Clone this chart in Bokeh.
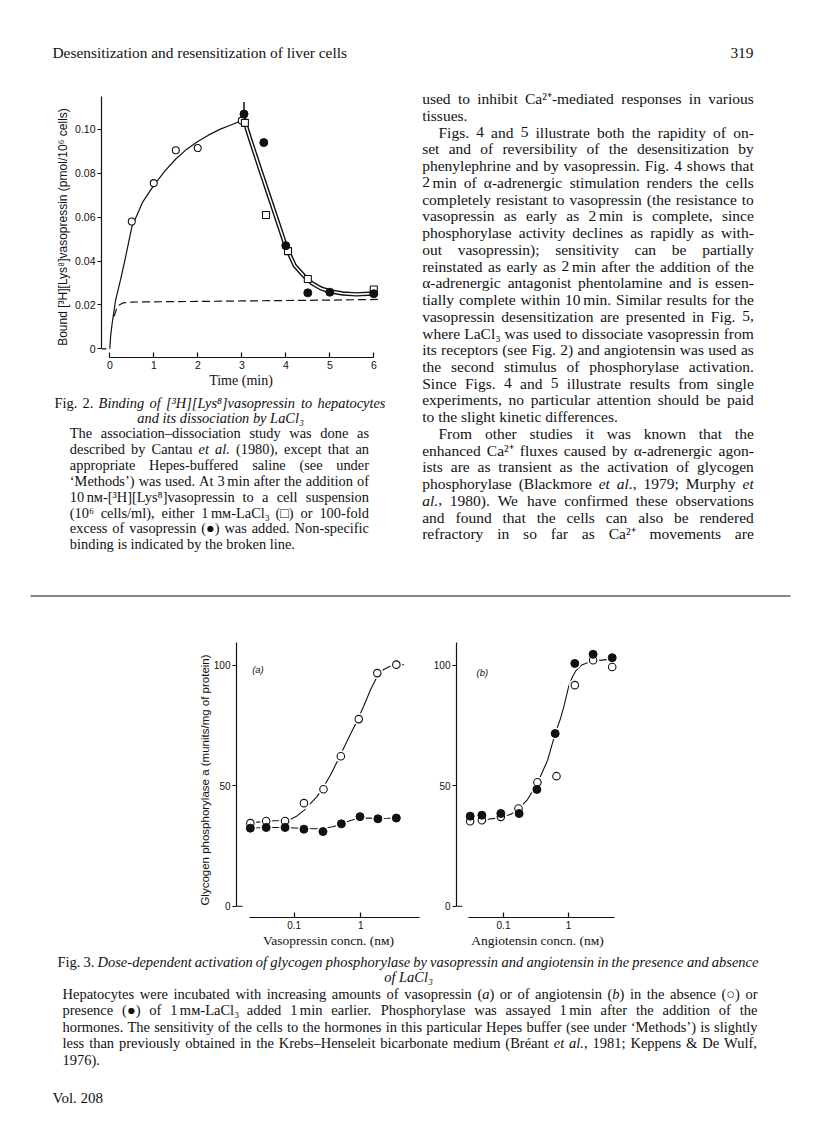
from bokeh.plotting import figure
from bokeh.models import Range1d, FixedTicker, CustomJSTickFormatter, ColumnDataSource, Label
from bokeh.layouts import column, row
from bokeh.embed import file_html
from bokeh.resources import INLINE
from bokeh.core.properties import value

SERIF = "Liberation Serif"
SANS = "Liberation Sans"
INK = "#111111"

# ---------------- Fig. 2 data (time in min, bound pmol/10^6 cells) ----------------
assoc_time = [0.5, 1.0, 1.5, 2.0, 3.0]
assoc_bound = [0.058, 0.0755, 0.0905, 0.0915, 0.104]
excess_time = [3.05, 3.5, 4.0, 4.5, 5.0, 6.0]
excess_bound = [0.107, 0.094, 0.047, 0.0255, 0.0258, 0.0251]
lacl_time = [3.07, 3.55, 4.05, 4.5, 6.0]
lacl_bound = [0.103, 0.061, 0.0445, 0.0318, 0.027]
assoc_fit_time = [0, 0.02, 0.05, 0.13, 0.25, 0.35, 0.5, 0.75, 1.0, 1.25, 1.5, 1.75, 2.0, 2.25, 2.5, 2.75, 3.0]
assoc_fit_bound = [0, 0.006, 0.011, 0.022, 0.032, 0.041, 0.0555, 0.067, 0.0745, 0.081, 0.0865, 0.091,
                   0.0945, 0.0975, 0.1, 0.102, 0.104]
dissoc_fit_time = [3.03, 3.2, 3.4, 3.6, 3.8, 4.0, 4.2, 4.4, 4.6, 4.8, 5.0, 5.3, 5.6, 6.0]
dissoc_fit_bound = [0.1058, 0.095, 0.0828, 0.0708, 0.0588, 0.0468, 0.038, 0.0335, 0.0298, 0.0275,
                    0.0262, 0.0252, 0.0248, 0.0252]
nonspec_time = [0.1, 0.15, 0.2, 0.3, 0.5, 1.0, 2.0, 3.0, 4.0, 5.0, 6.1]
nonspec_bound = [0.0148, 0.018, 0.0198, 0.0209, 0.0213, 0.0214, 0.0216, 0.0218, 0.022, 0.0222, 0.0225]
addition_time = [3.05, 3.05]
addition_bound = [0.1085, 0.1125]
fig2_xticks = [0, 1, 2, 3, 4, 5, 6]
fig2_yticks = [0, 0.02, 0.04, 0.06, 0.08, 0.10]

# ---------------- Fig. 3 data (concn. nM, phosphorylase a) ----------------
vaso_open_x = [0.022, 0.038, 0.073, 0.14, 0.275, 0.5, 0.93, 1.76, 3.4]
vaso_open_y = [34.5, 35.4, 35.4, 42.8, 48.6, 62.3, 77.7, 96.8, 100.3]
vaso_fill_x = [0.022, 0.038, 0.073, 0.14, 0.27, 0.51, 0.97, 1.8, 3.4]
vaso_fill_y = [32.4, 32.7, 32.7, 32.0, 31.0, 34.2, 37.2, 36.3, 36.6]
vaso_open_fit_x = [0.022, 0.038, 0.073, 0.09, 0.11, 0.14, 0.17, 0.22, 0.275, 0.35, 0.45, 0.56, 0.7,
                   0.88, 1.1, 1.4, 1.76, 2.2, 2.7, 3.4, 4.4]
vaso_open_fit_y = [34.5, 35.4, 35.6, 36.2, 37.5, 39.8, 42.3, 45.5, 49.5, 54.5, 60.5, 66.0, 71.5,
                   77.0, 83.0, 90.0, 95.5, 98.3, 99.5, 100.2, 100.3]
vaso_fill_fit_x = [0.022, 0.038, 0.073, 0.14, 0.2, 0.275, 0.38, 0.51, 0.7, 0.97, 1.3, 1.8, 2.5, 3.4]
vaso_fill_fit_y = [32.4, 32.7, 32.7, 32.3, 32.2, 32.3, 33.0, 34.2, 35.6, 36.6, 36.6, 36.4, 36.5, 36.6]

angio_open_x = [0.0307, 0.0465, 0.091, 0.170, 0.333, 0.653, 1.25, 2.39, 4.7]
angio_open_y = [35.3, 35.7, 37.1, 40.6, 51.5, 54.0, 91.8, 102.1, 99.3]
angio_fill_x = [0.0307, 0.0465, 0.091, 0.174, 0.326, 0.624, 1.25, 2.39, 4.7]
angio_fill_y = [37.4, 37.8, 38.5, 38.5, 48.5, 71.7, 100.8, 104.6, 103.2]
angio_fit_x = [0.0307, 0.0465, 0.091, 0.13, 0.17, 0.234, 0.333, 0.475, 0.624, 0.75, 0.85, 1.0, 1.15,
               1.3, 1.6, 2.0, 2.5, 3.5, 4.7]
angio_fit_y = [35.3, 35.8, 36.8, 38.2, 40.3, 44.3, 51.2, 60.5, 71.7, 77.8, 83.0, 91.0, 95.3,
               97.8, 100.2, 101.2, 101.8, 102.3, 102.7]
fig3_xticks = [0.1, 1]
fig3_yticks = [0, 50, 100]

# ---------------- page text ----------------
HEADER = "Desensitization and resensitization of liver cells"
PAGE_NO = "319"
FOOTER = "Vol. 208"

RIGHT_LINES = [
    ("used to inhibit Ca²⁺-mediated responses in various", "j"),
    ("tissues.", "l"),
    (">Figs. 4 and 5 illustrate both the rapidity of on-", "j"),
    ("set and of reversibility of the desensitization by", "j"),
    ("phenylephrine and by vasopressin. Fig. 4 shows that", "j"),
    ("2~min of α-adrenergic stimulation renders the cells", "j"),
    ("completely resistant to vasopressin (the resistance to", "j"),
    ("vasopressin as early as 2~min is complete, since", "j"),
    ("phosphorylase activity declines as rapidly as with-", "j"),
    ("out vasopressin); sensitivity can be partially", "j"),
    ("reinstated as early as 2~min after the addition of the", "j"),
    ("α-adrenergic antagonist phentolamine and is essen-", "j"),
    ("tially complete within 10~min. Similar results for the", "j"),
    ("vasopressin desensitization are presented in Fig. 5,", "j"),
    ("where LaCl₃ was used to dissociate vasopressin from", "j"),
    ("its receptors (see Fig. 2) and angiotensin was used as", "j"),
    ("the second stimulus of phosphorylase activation.", "j"),
    ("Since Figs. 4 and 5 illustrate results from single", "j"),
    ("experiments, no particular attention should be paid", "j"),
    ("to the slight kinetic differences.", "l"),
    (">From other studies it was known that the", "j"),
    ("enhanced Ca²⁺ fluxes caused by α-adrenergic agon-", "j"),
    ("ists are as transient as the activation of glycogen", "j"),
    ("phosphorylase (Blackmore *et al.*, 1979; Murphy *et*", "j"),
    ("*al.*, 1980). We have confirmed these observations", "j"),
    ("and found that the cells can also be rendered", "j"),
    ("refractory in so far as Ca²⁺ movements are", "j"),
]

CAP2_TITLE = [("Fig. 2. *Binding of [³H][Lys⁸]vasopressin to hepatocytes*", "j")]
CAP2_TITLE2 = [("*and its dissociation by LaCl₃*", "c")]
CAP2_BODY = [
    ("The association–dissociation study was done as", "j"),
    ("described by Cantau *et al.* (1980), except that an", "j"),
    ("appropriate Hepes-buffered saline (see under", "j"),
    ("‘Methods’) was used. At 3~min after the addition of", "j"),
    ("10~nᴍ-[³H][Lys⁸]vasopressin to a cell suspension", "j"),
    ("(10⁶ cells/ml), either 1~mᴍ-LaCl₃ (□) or 100-fold", "j"),
    ("excess of vasopressin (●) was added. Non-specific", "j"),
    ("binding is indicated by the broken line.", "l"),
]

CAP3_TITLE = [("Fig. 3. *Dose-dependent activation of glycogen phosphorylase by vasopressin and angiotensin in the presence and absence*", "j")]
CAP3_TITLE2 = [("*of LaCl₃*", "c")]
CAP3_BODY = [
    ("Hepatocytes were incubated with increasing amounts of vasopressin (*a*) or of angiotensin (*b*) in the absence (○) or", "j"),
    ("presence (●) of 1~mᴍ-LaCl₃ added 1~min earlier. Phosphorylase was assayed 1~min after the addition of the", "j"),
    ("hormones. The sensitivity of the cells to the hormones in this particular Hepes buffer (see under ‘Methods’) is slightly", "j"),
    ("less than previously obtained in the Krebs–Henseleit bicarbonate medium (Bréant *et al.*, 1981; Keppens & De Wulf,", "j"),
    ("1976).", "l"),
]

# ---------------- approximate Times metrics (per 1000 em) ----------------
ROMAN_W = {' ': 250, '!': 333, '&': 778, '(': 333, ')': 333, '+': 564, ',': 250, '-': 333, '.': 250,
           '/': 278, ':': 278, ';': 278, '?': 444, '[': 333, ']': 333,
           'A': 722, 'B': 667, 'C': 667, 'D': 722, 'E': 611, 'F': 556, 'G': 722, 'H': 722, 'I': 333,
           'J': 389, 'K': 722, 'L': 611, 'M': 889, 'N': 722, 'O': 722, 'P': 556, 'Q': 722, 'R': 667,
           'S': 556, 'T': 611, 'U': 722, 'V': 722, 'W': 944, 'X': 722, 'Y': 722, 'Z': 611,
           'a': 444, 'b': 500, 'c': 444, 'd': 500, 'e': 444, 'f': 333, 'g': 500, 'h': 500, 'i': 278,
           'j': 278, 'k': 500, 'l': 278, 'm': 778, 'n': 500, 'o': 500, 'p': 500, 'q': 500, 'r': 333,
           's': 389, 't': 278, 'u': 500, 'v': 500, 'w': 722, 'x': 500, 'y': 500, 'z': 444,
           '‘': 333, '’': 333, '–': 500, 'é': 444, 'α': 530, '²': 300, '³': 300, '⁺': 330, '⁸': 330,
           '⁶': 330, '₃': 330, '○': 600, '●': 600, '□': 600, 'ᴍ': 560}
for _d in "0123456789":
    ROMAN_W[_d] = 500
ITAL_W = {'A': 611, 'B': 611, 'C': 667, 'D': 722, 'E': 611, 'F': 611, 'G': 722, 'H': 722, 'I': 333,
          'J': 444, 'K': 667, 'L': 556, 'M': 833, 'N': 667, 'O': 722, 'P': 611, 'Q': 722, 'R': 611,
          'S': 500, 'T': 556, 'U': 722, 'V': 611, 'W': 833, 'X': 611, 'Y': 556, 'Z': 556,
          'a': 500, 'b': 500, 'c': 444, 'd': 500, 'e': 444, 'f': 278, 'g': 500, 'h': 500, 'i': 278,
          'j': 278, 'k': 444, 'l': 278, 'm': 722, 'n': 500, 'o': 500, 'p': 500, 'q': 500, 'r': 389,
          's': 389, 't': 278, 'u': 500, 'v': 444, 'w': 667, 'x': 444, 'y': 444, 'z': 389,
          '[': 389, ']': 389}


def char_w(ch, ital):
    if ital and ch in ITAL_W:
        return ITAL_W[ch]
    return ROMAN_W.get(ch, 500)


def parse(line):
    words, cur = [], []
    state = {"buf": "", "ital": False, "gap": 0.0}

    def flush():
        if state["buf"] or state["gap"]:
            cur.append((state["buf"], state["ital"], state["gap"]))
        state["buf"] = ""
        state["gap"] = 0.0

    for ch in line:
        if ch == "*":
            flush()
            state["ital"] = not state["ital"]
        elif ch == "~":
            flush()
            state["gap"] = 0.17
        elif ch == " ":
            flush()
            if cur:
                words.append(list(cur))
                cur.clear()
        else:
            state["buf"] += ch
    flush()
    if cur:
        words.append(list(cur))
    return words


def run_w(run, size):
    t, it, g = run
    return g * size + sum(char_w(c, it) for c in t) * size / 1000.0


def typeset(p, lines, size, left, right, top, step, indent=0.0, center=None, font=SERIF):
    roman = {"x": [], "y": [], "t": []}
    ital = {"x": [], "y": [], "t": []}
    for i, (txt, mode) in enumerate(lines):
        y = top + i * step
        x0 = left
        if txt.startswith(">"):
            txt = txt[1:]
            x0 = left + indent
        words = parse(txt)
        wws = [sum(run_w(r, size) for r in w) for w in words]
        gap = 0.25 * size
        if mode == "j" and len(words) > 1:
            gap = (right - x0 - sum(wws)) / (len(words) - 1)
        if mode == "c":
            total = sum(wws) + gap * (len(words) - 1)
            x0 = center - total / 2.0
        cur = x0
        for w in words:
            for (t, it, g) in w:
                cur += g * size
                if t:
                    d = ital if it else roman
                    d["x"].append(cur)
                    d["y"].append(y)
                    d["t"].append(t)
                cur += sum(char_w(c, it) for c in t) * size / 1000.0
            cur += gap
    for d, style in ((roman, "normal"), (ital, "italic")):
        if d["t"]:
            p.text(x="x", y="y", text="t", source=ColumnDataSource(d), text_font=value(font),
                   text_font_size=f"{size}px", text_font_style=style, text_color=INK,
                   text_baseline="middle", text_align="left")


def text_canvas(x0, y0, x1, y1):
    p = figure(width=round(x1 - x0), height=round(y1 - y0), x_range=Range1d(x0, x1),
               y_range=Range1d(y1, y0), x_axis_type=None, y_axis_type=None,
               toolbar_location=None, output_backend="svg", min_border=0, frame_align=False,
               outline_line_color=None, background_fill_color="white", border_fill_color="white")
    return p


def style_axes(p, tick_size):
    for ax in p.axis:
        ax.axis_line_color = INK
        ax.axis_line_width = 1.2
        ax.major_tick_line_color = INK
        ax.major_tick_line_width = 1.2
        ax.minor_tick_line_color = None
        ax.major_label_text_font = SANS
        ax.major_label_text_font_size = tick_size
        ax.major_label_text_color = INK
        ax.axis_label_text_font_style = "normal"
        ax.axis_label_text_color = INK
    for ax in p.xaxis:
        ax.major_tick_in = 5
        ax.major_tick_out = 0
        ax.major_label_standoff = 3
        ax.axis_label_standoff = 1
        ax.axis_label_text_font = SERIF
    for ax in p.yaxis:
        ax.major_tick_in = 0
        ax.major_tick_out = 4
        ax.major_label_standoff = 2
        ax.axis_label_text_font = SANS
    p.grid.visible = False
    p.outline_line_color = None
    p.background_fill_color = "white"
    p.border_fill_color = "white"


# ---------------- Fig. 2 ----------------
f2_x0, f2_x1 = -0.1886, 6.152
f2_y0, f2_y1 = -0.00397, 0.1150
f2 = figure(width=410, height=306, x_range=Range1d(f2_x0, f2_x1), y_range=Range1d(f2_y0, f2_y1),
            toolbar_location=None, output_backend="svg", frame_align=False,
            min_border_left=101, min_border_right=30, min_border_top=10, min_border_bottom=35)
style_axes(f2, "10.5px")
f2.xaxis.bounds = (fig2_xticks[0], fig2_xticks[-1])
f2.xaxis.ticker = FixedTicker(ticks=fig2_xticks)
f2.xaxis.axis_label = "Time (min)"
f2.xaxis.axis_label_text_font_size = "14px"
f2.yaxis.bounds = (0, f2_y1)
f2.yaxis.ticker = FixedTicker(ticks=fig2_yticks)
f2.yaxis.formatter = CustomJSTickFormatter(code="return tick == 0 ? '0' : tick.toFixed(2);")
f2.yaxis.axis_label = "Bound [³H][Lys⁸]vasopressin (pmol/10⁶ cells)"
f2.yaxis.axis_label_text_font_size = "12px"
f2.yaxis.axis_label_standoff = 2

f2.segment(x0=[f2_x0], y0=[0], x1=[f2_x0 + 0.11], y1=[0], line_color=INK, line_width=1.2)
f2.line(assoc_fit_time, assoc_fit_bound, line_color=INK, line_width=1.2)
f2.line(nonspec_time, nonspec_bound, line_color=INK, line_width=1.2, line_dash="8 4")
f2.line(dissoc_fit_time, dissoc_fit_bound, line_color=INK, line_width=4.4, line_join="round")
f2.line(dissoc_fit_time, dissoc_fit_bound, line_color="white", line_width=1.6, line_join="round")
f2.line(addition_time, addition_bound, line_color=INK, line_width=1.5)
f2.scatter(assoc_time, assoc_bound, marker="circle", size=7, fill_color="white", line_color=INK, line_width=1.1)
f2.scatter(lacl_time, lacl_bound, marker="square", size=7, fill_color="white", line_color=INK, line_width=1.1)
f2.scatter(excess_time, excess_bound, marker="circle", size=8, fill_color=INK, line_color=INK)

# ---------------- Fig. 3 ----------------
f3_y0, f3_y1 = -4.68, 109.5


def fig3_panel(width, xr, bounds, mb_left, mb_right, xlabel, ylabel):
    p = figure(width=width, height=320, x_axis_type="log", x_range=Range1d(*xr),
               y_range=Range1d(f3_y0, f3_y1), toolbar_location=None, output_backend="svg",
               frame_align=False,
               min_border_left=mb_left, min_border_right=mb_right, min_border_top=12, min_border_bottom=32)
    style_axes(p, "10px")
    p.xaxis.bounds = bounds
    p.xaxis.ticker = FixedTicker(ticks=fig3_xticks)
    p.xaxis.formatter = CustomJSTickFormatter(code="return tick < 0.5 ? tick.toFixed(1) : tick.toFixed(0);")
    p.xaxis.axis_label = xlabel
    p.xaxis.axis_label_text_font_size = "13.5px"
    p.yaxis.bounds = (0, f3_y1)
    p.yaxis.ticker = FixedTicker(ticks=fig3_yticks)
    if ylabel:
        p.yaxis.axis_label = ylabel
        p.yaxis.axis_label_text_font_size = "11.5px"
        p.yaxis.axis_label_standoff = 0
    p.segment(x0=[xr[0]], y0=[0], x1=[xr[0] * 1.23], y1=[0], line_color=INK, line_width=1.2)
    return p


f3a = fig3_panel(425, (0.01364, 7.83), (0.0212, 7.6), 236, 5,
                 "Vasopressin concn. (nᴍ)", "Glycogen phosphorylase a (munits/mg of protein)")
f3a.line(vaso_open_fit_x, vaso_open_fit_y, line_color=INK, line_width=1.1)
f3a.line(vaso_fill_fit_x, vaso_fill_fit_y, line_color=INK, line_width=1.1)
f3a.scatter(vaso_open_x, vaso_open_y, marker="circle", size=12, fill_color="white", line_color=None)
f3a.scatter(vaso_fill_x, vaso_fill_y, marker="circle", size=12, fill_color="white", line_color=None)
f3a.scatter(vaso_open_x, vaso_open_y, marker="circle", size=7.5, fill_color="white", line_color=INK, line_width=1.1)
f3a.scatter(vaso_fill_x, vaso_fill_y, marker="circle", size=8, fill_color=INK, line_color=INK)
f3a.add_layout(Label(x=0.0234, y=98.3, text="(a)", text_font=SANS, text_font_size="9.5px",
                     text_font_style="italic", text_color=INK, text_baseline="middle", text_align="left"))

f3b = fig3_panel(385, (0.01892, 5.875), (0.0292, 5.1), 31, 192, "Angiotensin concn. (nᴍ)", None)
f3b.line(angio_fit_x, angio_fit_y, line_color=INK, line_width=1.1)
f3b.scatter(angio_open_x, angio_open_y, marker="circle", size=12, fill_color="white", line_color=None)
f3b.scatter(angio_fill_x, angio_fill_y, marker="circle", size=12, fill_color="white", line_color=None)
f3b.scatter(angio_open_x, angio_open_y, marker="circle", size=7.5, fill_color="white", line_color=INK, line_width=1.1)
f3b.scatter(angio_fill_x, angio_fill_y, marker="circle", size=8, fill_color=INK, line_color=INK)
f3b.add_layout(Label(x=0.0385, y=97.2, text="(b)", text_font=SANS, text_font_size="9.5px",
                     text_font_style="italic", text_color=INK, text_baseline="middle", text_align="left"))

# ---------------- text blocks (page pixel coordinates) ----------------
header = text_canvas(0, 0, 810, 86)
header.text(x=[52], y=[52], text=[HEADER], text_font=value(SERIF), text_font_size="15.4px",
            text_color=INK, text_baseline="middle", text_align="left")
header.text(x=[753], y=[52], text=[PAGE_NO], text_font=value(SERIF), text_font_size="15.4px",
            text_color=INK, text_baseline="middle", text_align="right")

right = text_canvas(410, 86, 810, 594)
typeset(right, RIGHT_LINES, 15.5, 421.7, 753.3, 98.3, 16.73, indent=16.3)

cap2 = text_canvas(0, 392, 410, 594)
typeset(cap2, CAP2_TITLE, 14.4, 54, 385, 402.5, 15)
typeset(cap2, CAP2_TITLE2, 14.4, 54, 385, 417.5, 15, center=220)
typeset(cap2, CAP2_BODY, 14.4, 69.3, 368.5, 432.5, 15.9)

rule = text_canvas(0, 594, 810, 630)
rule.line(x=[30, 790], y=[595.5, 595.5], line_color=INK, line_width=1)

cap3 = text_canvas(0, 950, 810, 1130)
typeset(cap3, CAP3_TITLE, 14.5, 57, 758, 961, 16)
typeset(cap3, CAP3_TITLE2, 14.5, 57, 758, 976.5, 16, center=408)
typeset(cap3, CAP3_BODY, 14.5, 62, 757, 993, 16.5)
cap3.text(x=[52], y=[1097], text=[FOOTER], text_font=value(SERIF), text_font_size="15px",
          text_color=INK, text_baseline="middle", text_align="left")

layout = column(header, row(column(f2, cap2), right), rule, row(f3a, f3b), cap3)

open("out.html", "w").write(file_html(layout, INLINE))
